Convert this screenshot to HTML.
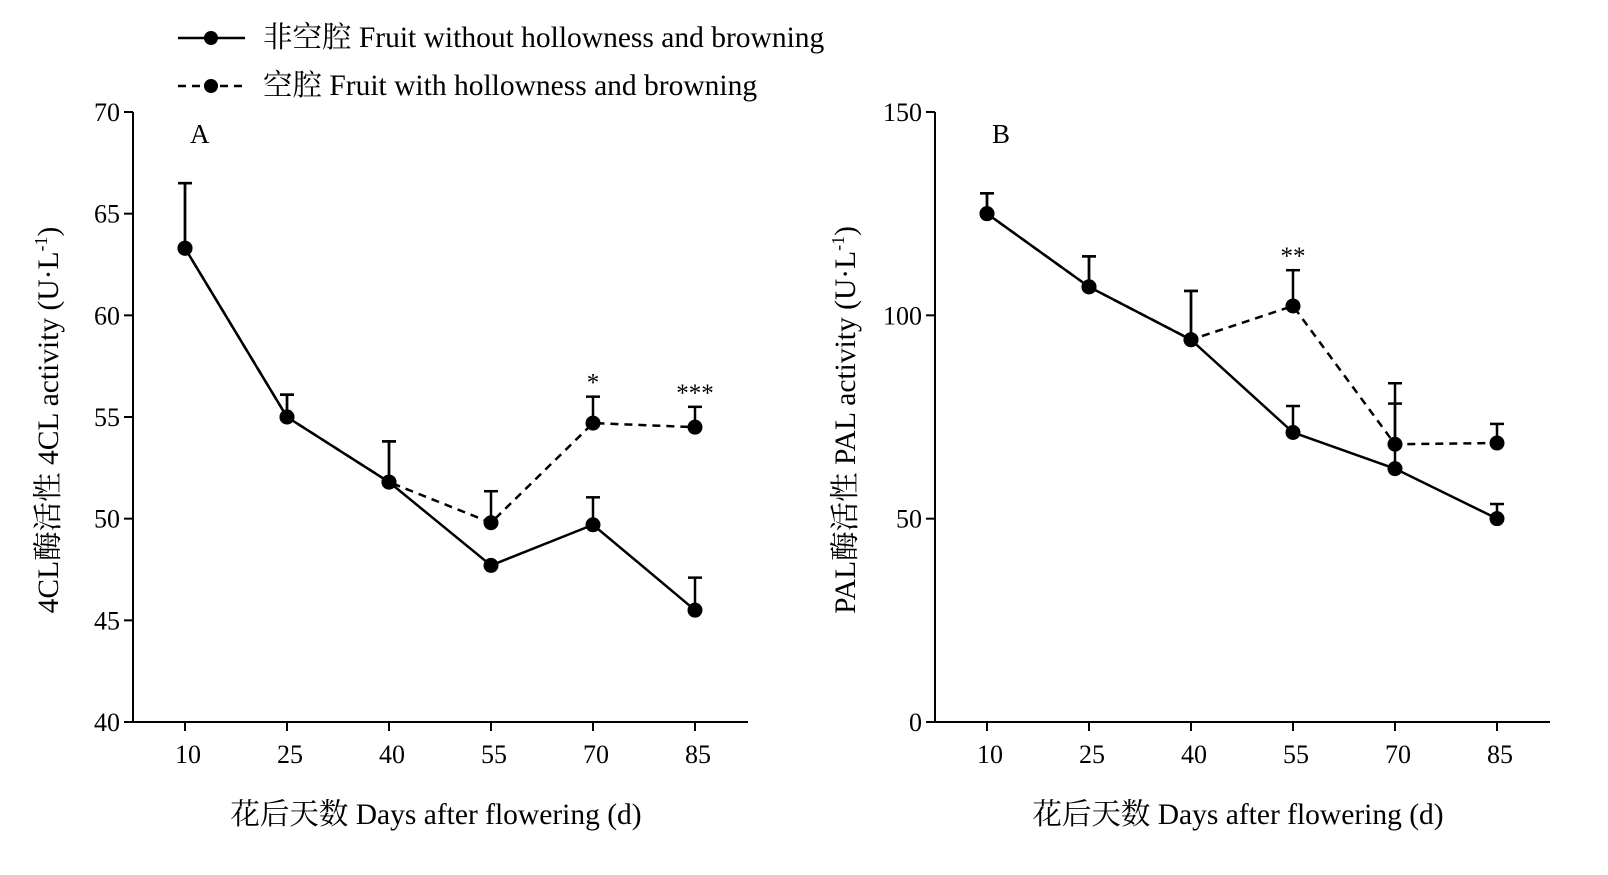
<!DOCTYPE html>
<html><head><meta charset="utf-8"><style>
html,body{margin:0;padding:0;background:#fff;}
svg text{font-family:"Liberation Serif","Noto Serif CJK SC",serif;fill:#000;}
</style></head><body>
<svg id="chart" width="1608" height="870" xmlns="http://www.w3.org/2000/svg">
<g>
 <g>
  <line x1="178" y1="38" x2="245" y2="38" stroke="#000" stroke-width="2.5"/>
  <circle cx="211" cy="38" r="7" fill="#000"/>
  <text x="263" y="47" font-size="29.5">非空腔 Fruit without hollowness and browning</text>
 </g>
 <g>
  <line x1="178" y1="86" x2="245" y2="86" stroke="#000" stroke-width="2.5" stroke-dasharray="8,6"/>
  <circle cx="211" cy="86" r="7" fill="#000"/>
  <text x="263" y="95" font-size="29.5">空腔 Fruit with hollowness and browning</text>
 </g>
</g>
<g id="panelA"></g>
<g id="panelB"></g>
</svg>
<script>
const days = [10, 25, 40, 55, 70, 85];
const a_without = [63.3, 55.0, 51.8, 47.7, 49.7, 45.5];
const a_without_err = [3.2, 1.1, 2.0, 0, 1.35, 1.6];
const a_with = [63.3, 55.0, 51.8, 49.8, 54.7, 54.5];
const a_with_err = [3.2, 1.1, 2.0, 1.55, 1.3, 1.0];
const a_ticks = [40, 45, 50, 55, 60, 65, 70];
const a_sig = ["", "", "", "", "*", "***"];
const b_without = [125, 107, 94, 71.2, 62.3, 50];
const b_without_err = [5, 7.5, 12, 6.5, 16, 3.6];
const b_with = [125, 107, 94, 102.3, 68.3, 68.6];
const b_with_err = [5, 7.5, 12, 8.8, 15, 4.7];
const b_ticks = [0, 50, 100, 150];
const b_sig = ["", "", "", "**", "", ""];

const NS = "http://www.w3.org/2000/svg";
function mk(parent, tag, attrs, txt){
  const e = document.createElementNS(NS, tag);
  for (const k in attrs) e.setAttribute(k, attrs[k]);
  if (txt !== undefined) e.textContent = txt;
  parent.appendChild(e); return e;
}
function drawPanel(g, cfg){
  const x0 = cfg.x0, xEnd = cfg.xEnd, yTop = 112, yBot = 722;
  const xs = d => cfg.x10 + (d - 10) / 15 * 102;
  const ys = v => yBot - (v - cfg.ymin) / (cfg.ymax - cfg.ymin) * (yBot - yTop);
  const ax = mk(g, "line", {x1:x0, y1:yTop, x2:x0, y2:yBot, stroke:"#000", "stroke-width":2});
  
  
  const bx = mk(g, "line", {x1:x0, y1:yBot, x2:xEnd, y2:yBot, stroke:"#000", "stroke-width":2});
  
  
  cfg.ticks.forEach(t => {
    const y = ys(t);
    mk(g, "line", {x1:x0-9, y1:y, x2:x0, y2:y, stroke:"#000", "stroke-width":2});
    const tl = mk(g, "text", {x:x0-13, y:y+9, "font-size":26, "text-anchor":"end"}, String(t));
    
    
  });
  days.forEach(d => {
    const x = xs(d);
    mk(g, "line", {x1:x, y1:yBot, x2:x, y2:yBot+9, stroke:"#000", "stroke-width":2});
    const tl = mk(g, "text", {x:x+3, y:763, "font-size":26, "text-anchor":"middle"}, String(d));
    
    
  });
  const xt = mk(g, "text", {x:x0+303, y:824, "font-size":29.5, "text-anchor":"middle"}, "花后天数 Days after flowering (d)");
  
  
  const yt = mk(g, "text", {x:0, y:0, "font-size":29.5, "text-anchor":"middle", transform:`translate(${cfg.ytx},420) rotate(-90)`});
  
  
  yt.textContent = cfg.ytitle;
  mk(yt, "tspan", {"font-size":18, dy:-11}, "-1");
  mk(yt, "tspan", {dy:11}, ")");
  const pl = mk(g, "text", {x:cfg.x10+5, y:143, "font-size":27}, cfg.label);
  
  
  const series = [[cfg.with, cfg.withErr, "8,6", "series-with"], [cfg.without, cfg.withoutErr, "", "series-without"]];
  series.forEach(([vals, errs, dash, name]) => {
    const sg = mk(g, "g", {});
    
    
    days.forEach((d, i) => {
      if (errs[i] > 0) {
        const x = xs(d), y1 = ys(vals[i]), y2 = ys(vals[i] + errs[i]);
        mk(sg, "line", {x1:x, y1:y1, x2:x, y2:y2, stroke:"#000", "stroke-width":2.5});
        mk(sg, "line", {x1:x-7, y1:y2, x2:x+7, y2:y2, stroke:"#000", "stroke-width":2.5});
      }
    });
    const pts = days.map((d, i) => xs(d) + "," + ys(vals[i])).join(" ");
    const attrs = {points:pts, fill:"none", stroke:"#000", "stroke-width":2.5};
    if (dash) attrs["stroke-dasharray"] = dash;
    const ln = mk(sg, "polyline", attrs);
    
    
    days.forEach((d, i) => {
      const c = mk(sg, "circle", {cx:xs(d), cy:ys(vals[i]), r:7.5, fill:"#000"});
      
      
    });
  });
  days.forEach((d, i) => {
    if (cfg.sig[i]) {
      const top = Math.max(cfg.with[i] + cfg.withErr[i], cfg.without[i] + cfg.withoutErr[i]);
      const s = mk(g, "text", {x:xs(d), y:ys(top) - 6, "font-size":25, "text-anchor":"middle"}, cfg.sig[i]);
      
      
    }
  });
}
drawPanel(document.getElementById("panelA"), {x0:133, xEnd:748, x10:185, ymin:40, ymax:70, ticks:a_ticks,
  without:a_without, withoutErr:a_without_err, with:a_with, withErr:a_with_err, sig:a_sig,
  label:"A", ytx:58, ytitle:"4CL酶活性 4CL activity (U·L"});
drawPanel(document.getElementById("panelB"), {x0:935, xEnd:1550, x10:987, ymin:0, ymax:150, ticks:b_ticks,
  without:b_without, withoutErr:b_without_err, with:b_with, withErr:b_with_err, sig:b_sig,
  label:"B", ytx:855, ytitle:"PAL酶活性 PAL activity (U·L"});
</script>
</body></html>
